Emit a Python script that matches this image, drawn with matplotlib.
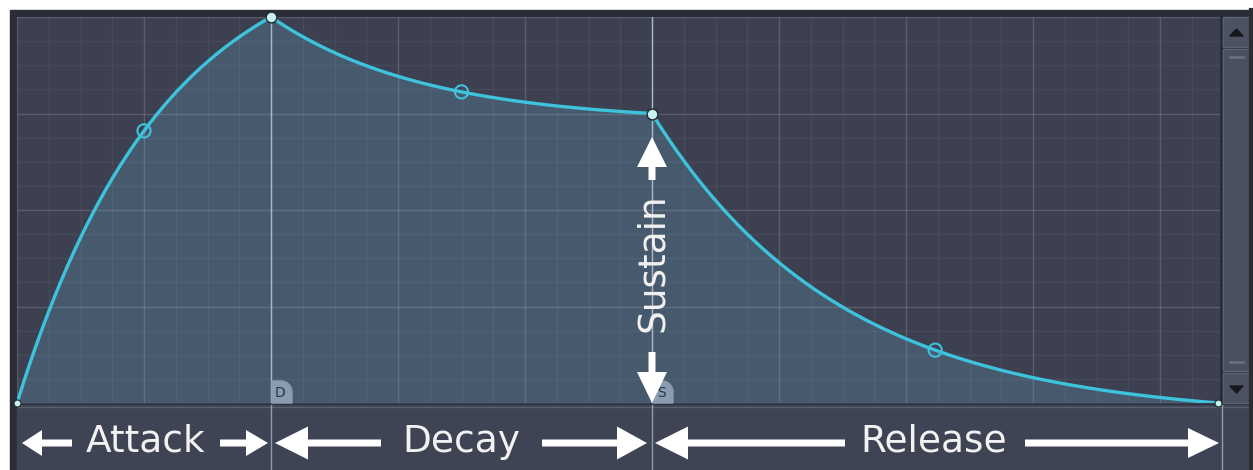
import numpy as np
import matplotlib
matplotlib.use("Agg")
import matplotlib.pyplot as plt
import matplotlib.patches as mpatches
from matplotlib.ticker import MultipleLocator

# envelope nodes (time in grid units, level 0..1)
node_x = [0.0, 2.0, 5.0, 9.46]
node_y = [0.0, 1.0, 0.75, 0.0]
# curve level at the middle of each segment (the hollow handles)
handle_y = [0.705, 0.806, 0.137]
stage_names = ["Attack", "Decay", "Release"]
node_tabs = ["D", "S"]

W, H = 1253, 470
plt.rcParams['font.family'] = ['DejaVu Sans']

bg_plot = '#3c4050'
fill_col = '#46596d'
curve_col = '#3ec3dd'
bar_col = '#3f4455'
frame_col = '#2a2d35'

fig = plt.figure(figsize=(W / 100, H / 100), dpi=100)
fig.patch.set_facecolor('white')

# background / chrome in pixel coords
bg = fig.add_axes([0, 0, 1, 1], zorder=0)
bg.set_xlim(0, W)
bg.set_ylim(H, 0)
bg.axis('off')
bg.add_patch(mpatches.Rectangle((10, 10), W - 10, H - 10, color=frame_col))
bg.add_patch(mpatches.Rectangle((17, 405), 1233, 65, color=bar_col))
bg.plot([17, 1250], [406.5, 406.5], color='#5a606e', lw=1)
# scrollbar
bg.add_patch(mpatches.Rectangle((1223, 17), 27, 30, color='#4c5262', ec='#5c6272', lw=1))
bg.add_patch(mpatches.Rectangle((1223, 49), 27, 322, color='#4a5060', ec='#5e6474', lw=1))
bg.add_patch(mpatches.Rectangle((1223, 373), 27, 30, color='#4c5262', ec='#5c6272', lw=1))
bg.plot([1230, 1243], [57, 57], color='#6a7080', lw=2)
bg.plot([1230, 1243], [362, 362], color='#6a7080', lw=2)
bg.add_patch(mpatches.Polygon([[1230, 36], [1243, 36], [1236.5, 29]], color='#15171c'))
bg.add_patch(mpatches.Polygon([[1230, 386], [1243, 386], [1236.5, 393]], color='#15171c'))

# main envelope axes
x_max = 1203 / 127
ax = fig.add_axes([17 / W, (H - 403) / H, 1203 / W, 386 / H], zorder=1)
ax.set_facecolor(bg_plot)
ax.set_xlim(0, x_max)
ax.set_ylim(0, 1)
ax.xaxis.set_major_locator(MultipleLocator(1))
ax.xaxis.set_minor_locator(MultipleLocator(0.25))
ax.yaxis.set_major_locator(MultipleLocator(0.25))
ax.yaxis.set_minor_locator(MultipleLocator(0.0625))
ax.grid(which='minor', color='white', alpha=0.05, lw=1)
ax.grid(which='major', color='white', alpha=0.15, lw=1)
ax.tick_params(which='both', length=0, labelbottom=False, labelleft=False)
for s in ax.spines.values():
    s.set_visible(False)

xs, ys, hx = [], [], []
for i in range(3):
    x0, x1 = node_x[i], node_x[i + 1]
    y0, y1 = node_y[i], node_y[i + 1]
    p = (handle_y[i] - y0) / (y1 - y0)
    k = -2 * np.log(1 / p - 1)
    t = np.linspace(0, 1, 200)
    f = (1 - np.exp(-k * t)) / (1 - np.exp(-k))
    xs.append(x0 + (x1 - x0) * t)
    ys.append(y0 + (y1 - y0) * f)
    hx.append((x0 + x1) / 2)
xs = np.concatenate(xs)
ys = np.concatenate(ys)

ax.fill_between(xs, 0, ys, color=fill_col, zorder=1, lw=0)
for xv in node_x[1:3]:
    ax.axvline(xv, color='#aab8c8', lw=1, zorder=2)
ax.plot(xs, ys, color=curve_col, lw=2.4, zorder=3, solid_capstyle='round')
ax.scatter(hx, handle_y, s=90, facecolor='none', edgecolor=curve_col, lw=1.5, zorder=4)
ax.scatter(node_x[1:3], node_y[1:3], s=60, facecolor='#c9f2ee', edgecolor='#1d2a30', lw=1, zorder=5, clip_on=False)
ax.scatter([node_x[0], node_x[3]], [node_y[0], node_y[3]], s=25, facecolor='#c9f2ee', edgecolor='#1d2a30', lw=0.8, zorder=5, clip_on=False)

# foreground overlay in pixel coords
fg = fig.add_axes([0, 0, 1, 1], zorder=2)
fg.set_xlim(0, W)
fg.set_ylim(H, 0)
fg.axis('off')
fg.patch.set_alpha(0)

def px(xv):
    return 17 + xv * 127

# D / S tabs
for xv, lab in zip(node_x[1:3], node_tabs):
    x0 = px(xv) + 1
    th = np.linspace(np.pi / 2, 0, 20)
    pts = [[x0, 403], [x0, 381], [x0 + 9, 381]]
    pts += [[x0 + 9 + 11 * np.cos(a), 392 - 11 * np.sin(a)] for a in th]
    pts += [[x0 + 20, 403]]
    fg.add_patch(mpatches.Polygon(pts, color='#8a9cb0', zorder=1))
    fg.text(x0 + 8, 393, lab, color='#2c3644', fontsize=10, ha='center', va='center', zorder=2)

# separators in the bar
for xv in [px(node_x[1]), px(node_x[2]), 1222]:
    fg.plot([xv, xv], [405, 470], color='#8e9cad', lw=1, zorder=1)
fg.plot([1250.5, 1250.5], [10, 470], color=frame_col, lw=3)

def arrow(x0, x1, y, hl, hw=26, w=7, vertical=False):
    if vertical:
        a = mpatches.FancyArrow(y, x0, 0, x1 - x0, width=w, head_width=hw, head_length=hl,
                                length_includes_head=True, color='white', lw=0, zorder=3)
    else:
        a = mpatches.FancyArrow(x0, y, x1 - x0, 0, width=w, head_width=hw, head_length=hl,
                                length_includes_head=True, color='white', lw=0, zorder=3)
    fg.add_patch(a)

ty = 443
base = 452
fs = 27
tc = '#f2f2f2'
fg.text(146, base, stage_names[0], color=tc, fontsize=fs, ha='center', va='baseline')
arrow(72, 22, ty, 20)
arrow(220, 268, ty, 22)
fg.text(461, base, stage_names[1], color=tc, fontsize=fs, ha='center', va='baseline')
arrow(381, 275, ty, 33, hw=33)
arrow(542, 647, ty, 30, hw=33)
fg.text(934, base, stage_names[2], color=tc, fontsize=fs, ha='center', va='baseline')
arrow(845, 655, ty, 33, hw=33)
arrow(1025, 1219, ty, 31, hw=30)

# sustain label
sx = px(node_x[2])
fg.text(sx + 1, 263, "Sustain", color=tc, fontsize=fs, rotation=90, ha='center', va='center')
arrow(180, 137, sx, 30, hw=30, vertical=True)
arrow(352, 403, sx, 31, hw=30, vertical=True)

fig.savefig('out.png', dpi=100, facecolor='white')
